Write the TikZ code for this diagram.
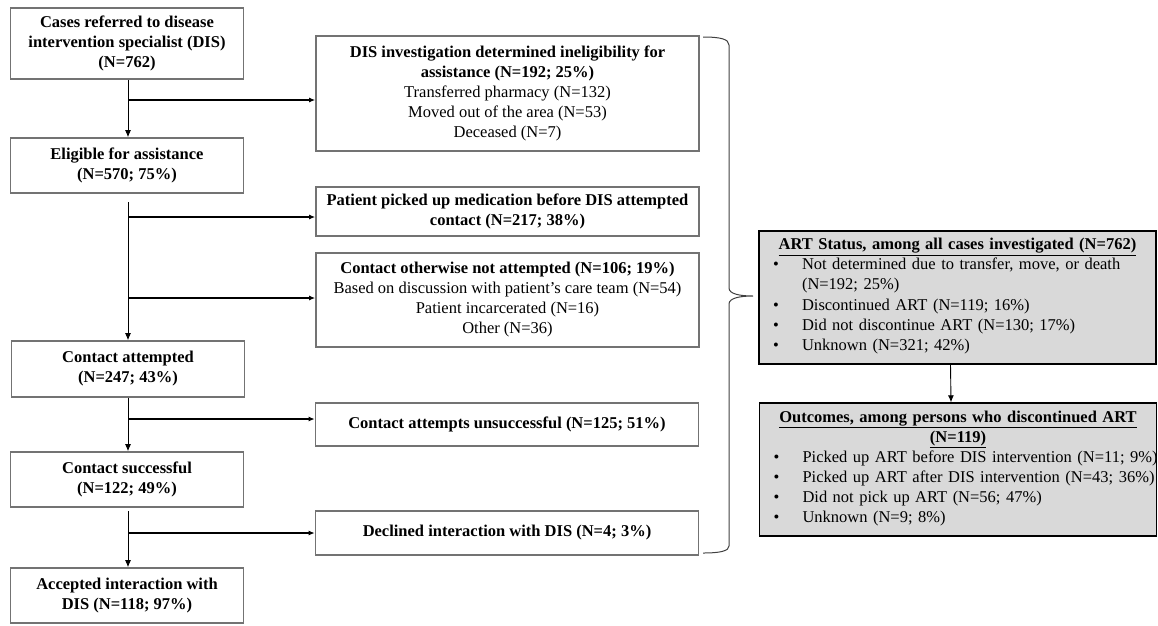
\documentclass[tikz,border=0pt]{standalone}
\usepackage{fontspec}
\setmainfont{Liberation Serif}
\usetikzlibrary{arrows.meta}

\newcommand{\boxfont}{\fontsize{16.5}{20}\selectfont}
\newcommand{\artitem}[1]{\par\noindent\hspace*{3pt}\makebox[29pt][l]{\textbullet}\begin{tabular}[t]{@{}l@{}}#1\end{tabular}\par}

\tikzset{
  leftbox/.style={draw=black!55, line width=1.6pt, minimum width=233pt, align=center, font=\boxfont\bfseries},
  midbox/.style={draw=black!55, line width=1.6pt, minimum width=383pt, align=center, font=\boxfont},
  artbox/.style={draw=black, line width=1.4pt, fill=black!15, text width=375pt, inner xsep=11pt, minimum height=133pt, font=\boxfont},
  trunk/.style={line width=0.9pt, -{Latex[length=7pt,width=6pt]}},
  branch/.style={line width=1.6pt, -{Latex[length=6pt,width=5pt]}},
}

\begin{document}
\begin{tikzpicture}[x=1pt,y=-1pt]
\useasboundingbox (0,0) rectangle (1158,625);

% left column
\node[leftbox, minimum height=71pt] (cases) at (127,43.5) {Cases referred to disease\\intervention specialist (DIS)\\(N=762)};
\node[leftbox, minimum height=55pt] (elig) at (127,165.5) {Eligible for assistance\\(N=570; 75\%)};
\node[leftbox, minimum height=56pt] (attempt) at (128,369) {Contact attempted\\(N=247; 43\%)};
\node[leftbox, minimum height=55pt] (success) at (127,479.5) {Contact successful\\(N=122; 49\%)};
\node[leftbox, minimum height=55pt] (accept) at (127,595.5) {Accepted interaction with\\DIS (N=118; 97\%)};

% excluded boxes
\node[midbox, minimum height=115pt] (inelig) at (507.5,93.5) {\textbf{DIS investigation determined ineligibility for}\\\textbf{assistance (N=192; 25\%)}\\Transferred pharmacy (N=132)\\Moved out of the area (N=53)\\Deceased (N=7)};
\node[midbox, minimum height=49pt] (picked) at (507.5,211.5) {\textbf{Patient picked up medication before DIS attempted}\\\textbf{contact (N=217; 38\%)}};
\node[midbox, minimum height=94pt] (notatt) at (507.5,300) {\textbf{Contact otherwise not attempted (N=106; 19\%)}\\Based on discussion with patient's care team (N=54)\\Patient incarcerated (N=16)\\Other (N=36)};
\node[midbox, minimum height=43pt] (unsucc) at (507,424.5) {\textbf{Contact attempts unsuccessful (N=125; 51\%)}};
\node[midbox, minimum height=44pt] (decl) at (507,533) {\textbf{Declined interaction with DIS (N=4; 3\%)}};

% trunk coordinates
\coordinate (t2) at (128,202);
\coordinate (t4) at (128,511);
\coordinate (b1) at (128,100);
\coordinate (b2) at (128,217);
\coordinate (b3) at (128,298);
\coordinate (b4) at (128,419);
\coordinate (b5) at (128,533);

\draw[trunk] (cases.south -| b1) -- (elig.north -| b1);
\draw[trunk] (t2) -- (attempt.north -| t2);
\draw[trunk] (attempt.south -| t2) -- (success.north -| t2);
\draw[trunk] (t4) -- (accept.north -| t4);

\draw[branch] (b1) -- (b1 -| inelig.west);
\draw[branch] (b2) -- (b2 -| picked.west);
\draw[branch] (b3) -- (b3 -| notatt.west);
\draw[branch] (b4) -- (b4 -| unsucc.west);
\draw[branch] (b5) -- (b5 -| decl.west);

% brace
\draw[black!75, line width=1pt] (703,37) .. controls (720,37) and (729,39) .. (729,45) -- (729,288)
  .. controls (729,294) and (740,296) .. (753,296)
  .. controls (740,296) and (729,298) .. (729,304) -- (729,546)
  .. controls (729,551) and (720,553) .. (703,553);

% ART status
\node[artbox] (art) at (957.5,297.5) {{\centering\bfseries\underline{ART Status, among all cases investigated (N=762)}\par}
\artitem{Not determined due to transfer, move, or death\\(N=192; 25\%)}
\artitem{Discontinued ART (N=119; 16\%)}
\artitem{Did not discontinue ART (N=130; 17\%)}
\artitem{Unknown (N=321; 42\%)}};
\node[artbox] (outc) at (958,469.5) {{\centering\bfseries\underline{Outcomes, among persons who discontinued ART}\\\underline{(N=119)}\par}
\artitem{Picked up ART before DIS intervention (N=11; 9\%)}
\artitem{Picked up ART after DIS intervention (N=43; 36\%)}
\artitem{Did not pick up ART (N=56; 47\%)}
\artitem{Unknown (N=9; 8\%)}};

\draw[trunk] ([xshift=-7pt]art.south) -- ([xshift=-7pt]outc.north);

\end{tikzpicture}
\end{document}
